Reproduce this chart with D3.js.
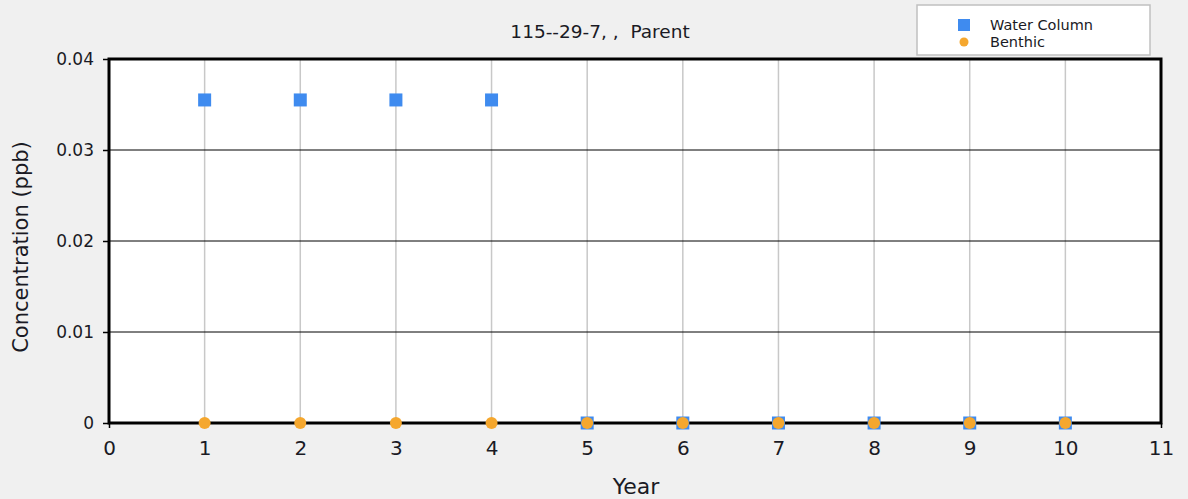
<!DOCTYPE html>
<html>
<head>
<meta charset="utf-8">
<script src="https://cdn.jsdelivr.net/npm/d3@7"></script>
<style>
  body { margin: 0; background: #f0f0f0; }
  svg { display: block; font-family: "DejaVu Sans", Verdana, sans-serif; }
</style>
</head>
<body>
<svg id="chart" width="1188" height="499"></svg>
<script>
// data
const years = [1, 2, 3, 4, 5, 6, 7, 8, 9, 10];
const waterColumn = [0.0355, 0.0355, 0.0355, 0.0355, 0, 0, 0, 0, 0, 0];
const benthic = [0, 0, 0, 0, 0, 0, 0, 0, 0, 0];
const xTicks = [0, 1, 2, 3, 4, 5, 6, 7, 8, 9, 10, 11];
const yTicks = [0, 0.01, 0.02, 0.03, 0.04];

const margin = {left: 109, right: 27, top: 59, bottom: 76};
const width = 1188, height = 499;
const ink = '#1a1a24';

const svg = d3.select('#chart');

svg.append('rect').attr('x', 0).attr('y', 0).attr('width', width).attr('height', height).attr('fill', '#f0f0f0');

const x = d3.scaleLinear().domain([0, 11]).range([margin.left, width - margin.right]);
const y = d3.scaleLinear().domain([0, 0.04]).range([height - margin.bottom, margin.top]);

// plot area
svg.append('rect')
    .attr('x', x(0)).attr('y', y(0.04))
    .attr('width', x(11) - x(0)).attr('height', y(0) - y(0.04))
    .attr('fill', '#fff');

// vertical grid
svg.append('g')
    .selectAll('line')
    .data(xTicks.slice(1, -1))
    .join('line')
    .attr('x1', d => x(d)).attr('x2', d => x(d))
    .attr('y1', y(0.04)).attr('y2', y(0))
    .attr('stroke', '#c8c8c8').attr('stroke-width', 1.5);

// horizontal grid
svg.append('g')
    .selectAll('line')
    .data(yTicks.slice(1, -1))
    .join('line')
    .attr('x1', x(0)).attr('x2', x(11))
    .attr('y1', d => y(d)).attr('y2', d => y(d))
    .attr('stroke', '#000').attr('stroke-width', 1);

// axes
const xAxis = svg.append('g')
    .attr('transform', `translate(0,${y(0)})`)
    .call(d3.axisBottom(x).tickValues(xTicks).tickFormat(d3.format('d')).tickSize(5).tickPadding(13));
const yAxis = svg.append('g')
    .attr('transform', `translate(${x(0)},0)`)
    .call(d3.axisLeft(y).tickValues(yTicks).tickFormat(d => d === 0 ? '0' : d3.format('.2f')(d)).tickSize(6).tickPadding(9));

[xAxis, yAxis].forEach(a => {
  a.select('.domain').remove();
  a.selectAll('text').attr('fill', ink).attr('font-family', '"DejaVu Sans", Verdana, sans-serif');
  a.selectAll('line').attr('stroke', '#000').attr('stroke-width', 1.5);
});
xAxis.selectAll('text').attr('font-size', 20);
yAxis.selectAll('text').attr('font-size', 17);

// frame
svg.append('rect')
    .attr('x', x(0)).attr('y', y(0.04))
    .attr('width', x(11) - x(0)).attr('height', y(0) - y(0.04))
    .attr('fill', 'none').attr('stroke', '#000').attr('stroke-width', 3);

// water column squares
const sq = 13;
svg.append('g')
    .selectAll('rect')
    .data(years.map((d, i) => ({year: d, v: waterColumn[i]})))
    .join('rect')
    .attr('x', d => x(d.year) - sq / 2).attr('y', d => y(d.v) - sq / 2)
    .attr('width', sq).attr('height', sq)
    .attr('fill', '#3f8bef');

// benthic circles
svg.append('g')
    .selectAll('circle')
    .data(years.map((d, i) => ({year: d, v: benthic[i]})))
    .join('circle')
    .attr('cx', d => x(d.year)).attr('cy', d => y(d.v))
    .attr('r', 6)
    .attr('fill', '#f5a72e');

// title
svg.append('text')
    .attr('x', 600).attr('y', 38)
    .attr('text-anchor', 'middle')
    .attr('font-size', 18.5).attr('fill', ink)
    .attr('xml:space', 'preserve')
    .text('115--29-7, ,  Parent');

// axis titles
svg.append('text')
    .attr('x', 636).attr('y', 494)
    .attr('text-anchor', 'middle')
    .attr('font-size', 22).attr('fill', ink)
    .text('Year');
svg.append('text')
    .attr('transform', `translate(28,${(y(0) + y(0.04)) / 2 + 6}) rotate(-90)`)
    .attr('text-anchor', 'middle')
    .attr('font-size', 21).attr('fill', ink)
    .text('Concentration (ppb)');

// legend
const lg = svg.append('g');
lg.append('rect')
    .attr('x', 917).attr('y', 5).attr('width', 233).attr('height', 50)
    .attr('fill', '#fff').attr('stroke', '#c0c0c0').attr('stroke-width', 1.5);
lg.append('rect').attr('x', 958).attr('y', 19).attr('width', 12).attr('height', 12).attr('fill', '#3f8bef');
lg.append('circle').attr('cx', 964).attr('cy', 42).attr('r', 4.5).attr('fill', '#f5a72e');
lg.append('text').attr('x', 990).attr('y', 30).attr('font-size', 14.5).attr('fill', ink).text('Water Column');
lg.append('text').attr('x', 990).attr('y', 47).attr('font-size', 14.5).attr('fill', ink).text('Benthic');
</script>
</body>
</html>
